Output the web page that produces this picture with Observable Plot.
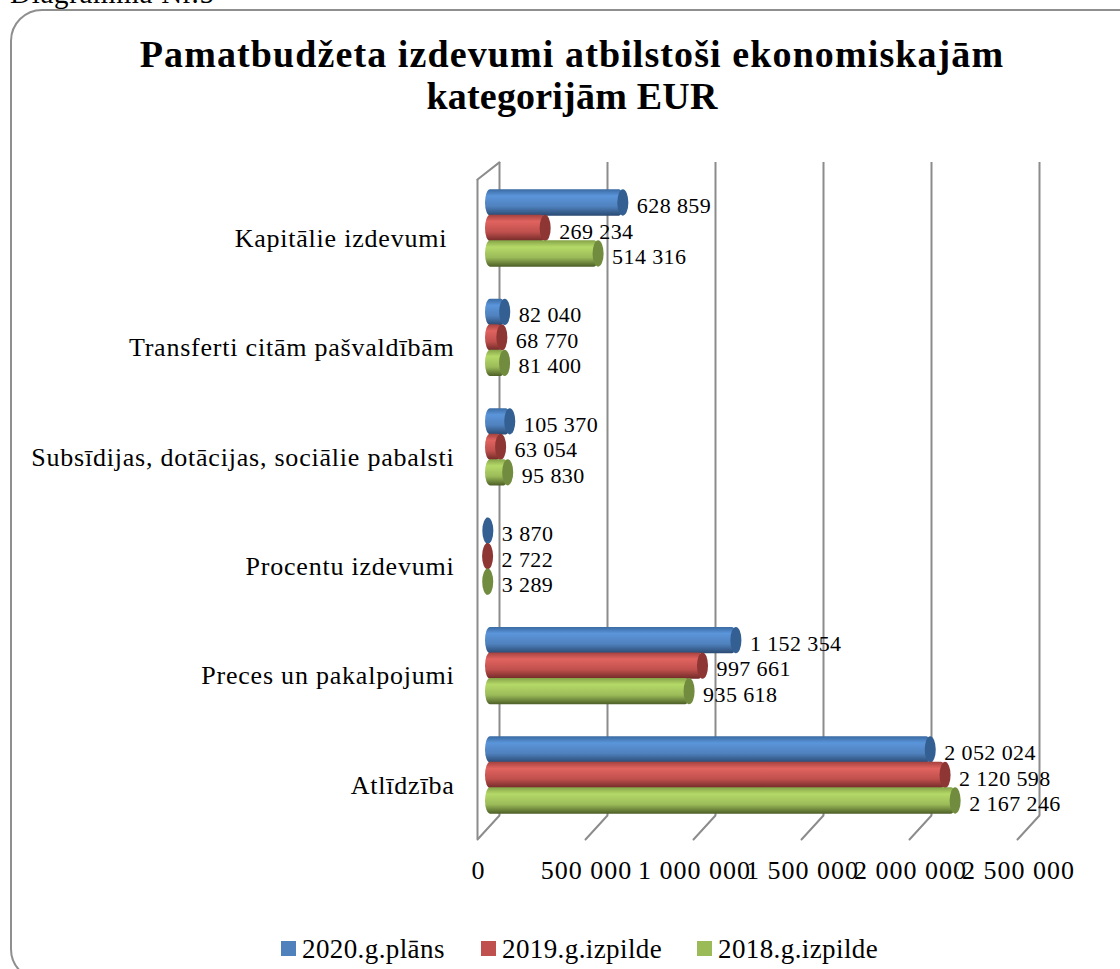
<!DOCTYPE html>
<html lang="lv">
<head>
<meta charset="utf-8">
<script src="https://cdn.jsdelivr.net/npm/d3@7"></script>
<script src="https://cdn.jsdelivr.net/npm/@observablehq/plot@0.6"></script>
<style>
html,body{margin:0;padding:0;background:#fff;width:1120px;height:969px;overflow:hidden;font-family:"Liberation Serif",serif;color:#000}
#page{position:relative;width:1120px;height:969px;overflow:hidden}
#note{position:absolute;left:10px;top:-22px;font-size:29px;line-height:30px;letter-spacing:.7px;white-space:nowrap}
#box{position:absolute;left:10px;top:9px;width:1300px;height:972px;border:2px solid #8f8f8f;border-radius:32px;box-sizing:border-box}
#title{position:absolute;left:0;top:33px;width:1144px;text-align:center;font-weight:bold;font-size:38px;line-height:42px;letter-spacing:1.1px}
#title span{letter-spacing:.2px}
#plot{position:absolute;left:0;top:130px}
#plot svg{display:block;background:transparent}
#plot [aria-label="y-axis tick label"] text{letter-spacing:.78px}
#plot [aria-label="x-axis tick label"] text{letter-spacing:1px}
#plot [aria-label="text"] text{letter-spacing:.4px}
.lg{position:absolute;top:933px;font-size:27px;line-height:32px;letter-spacing:.4px;white-space:nowrap}
.sw{position:absolute;top:941px;width:15px;height:15px}
</style>
</head>
<body>
<div id="page">
  <div id="box"></div>
  <div id="note">Diagramma Nr.5</div>
  <div id="title">Pamatbudžeta izdevumi atbilstoši ekonomiskajām<br><span>kategorijām EUR</span></div>
  <div id="plot"></div>
  <div class="sw" style="left:281px;background:#4f81bd"></div><div class="lg" style="left:302px">2020.g.plāns</div>
  <div class="sw" style="left:481px;background:#c0504d"></div><div class="lg" style="left:502px">2019.g.izpilde</div>
  <div class="sw" style="left:697px;background:#9bbb59"></div><div class="lg" style="left:718px">2018.g.izpilde</div>
</div>
<script>
const categories = ["Kapitālie izdevumi\u00a0", "Transferti citām pašvaldībām", "Subsīdijas, dotācijas, sociālie pabalsti", "Procentu izdevumi", "Preces un pakalpojumi", "Atlīdzība"];
const plan2020 = [628859, 82040, 105370, 3870, 1152354, 2052024];
const actual2019 = [269234, 68770, 63054, 2722, 997661, 2120598];
const actual2018 = [514316, 81400, 95830, 3289, 935618, 2167246];
const xTicks = [0, 500000, 1000000, 1500000, 2000000, 2500000];

const fmt = d3.formatLocale({thousands: "\u00a0", grouping: [3], decimal: ","}).format(",");
const series = [
  {values: plan2020, grad: "url(#cyl-blue)", cap: "#335f93", dy: -25.5},
  {values: actual2019, grad: "url(#cyl-red)", cap: "#8e3633", dy: 0},
  {values: actual2018, grad: "url(#cyl-green)", cap: "#728c3f", dy: 25.5}
];
const line = {draw(c, l) { c.moveTo(0, 0); c.lineTo(0, -l); }};
const wall = {stroke: "#8c8c8c", strokeWidth: 2};

const marks = [
  Plot.ruleX(xTicks, {x: d => d, dx: 11, ...wall}),
  Plot.ruleX([0], {x: d => d, dx: -11, insetTop: 17, insetBottom: -24, ...wall}),
  Plot.vector(xTicks, {x: d => d, frameAnchor: "bottom", dx: -11, dy: 24, length: 32.5, rotate: 42.5, anchor: "start", shape: line, ...wall}),
  Plot.vector([0], {x: d => d, frameAnchor: "top", dx: -11, dy: 17, length: 27.8, rotate: 52, anchor: "start", shape: line, ...wall})
];
for (const s of series) {
  const rows = categories.map((c, i) => ({c, v: s.values[i]}));
  marks.push(
    Plot.barX(rows, {x1: () => 0, x2: "v", y: "c", dy: s.dy, fill: s.grad, insetLeft: -3, rx: 5, ry: 13}),
    Plot.barX(rows, {x1: "v", x2: "v", y: "c", dy: s.dy, dx: -1, fill: s.cap, insetLeft: -5.5, insetRight: -5.5, rx: 5.5, ry: 13}),
    Plot.text(rows, {x: "v", y: "c", dy: s.dy + 3, dx: 12.5, text: d => fmt(d.v), textAnchor: "start", fontSize: 22, fill: "#000"})
  );
}
marks.push(
  Plot.axisY({domain: categories, tickSize: 0, tickPadding: 34, dy: 10, fontSize: 26, label: null, lineWidth: 60, textOverflow: null}),
  Plot.axisX(xTicks, {tickSize: 0, tickPadding: 45, dx: -10, tickFormat: fmt, fontSize: 26, label: null})
);

const chart = Plot.plot({
  width: 1120,
  height: 790,
  marginLeft: 488,
  marginRight: 92,
  marginTop: 32,
  marginBottom: 105,
  style: {fontFamily: "'Liberation Serif', serif", color: "#000", background: "transparent", overflow: "visible"},
  x: {domain: [0, 2500000], axis: null},
  y: {domain: categories, range: [43.3, 699.7], paddingInner: 0.76, paddingOuter: 0.38, round: false, axis: null},
  marks
});

const ns = "http://www.w3.org/2000/svg";
const defs = document.createElementNS(ns, "defs");
const stops = {
  "cyl-blue": ["#3a6ba3", "#5b95da", "#4f81bd", "#2a4a72"],
  "cyl-red": ["#a5423f", "#e0635f", "#c0504d", "#702a28"],
  "cyl-green": ["#85a348", "#b5d968", "#9bbb59", "#4d5f27"]
};
for (const [id, cols] of Object.entries(stops)) {
  const g = document.createElementNS(ns, "linearGradient");
  g.setAttribute("id", id);
  g.setAttribute("x1", "0"); g.setAttribute("y1", "0"); g.setAttribute("x2", "0"); g.setAttribute("y2", "1");
  [0, 0.25, 0.65, 1].forEach((o, i) => {
    const st = document.createElementNS(ns, "stop");
    st.setAttribute("offset", o);
    st.setAttribute("stop-color", cols[i]);
    g.appendChild(st);
  });
  defs.appendChild(g);
}
chart.insertBefore(defs, chart.firstChild);
document.getElementById("plot").appendChild(chart);
</script>
</body>
</html>
